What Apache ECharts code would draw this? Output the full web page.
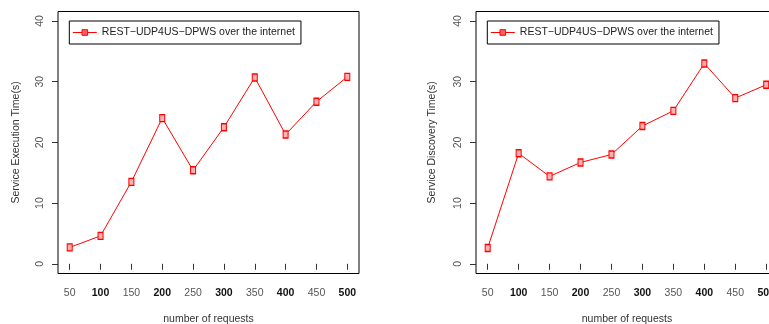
<!DOCTYPE html>
<html>
<head>
<meta charset="utf-8">
<script src="https://cdn.jsdelivr.net/npm/echarts@6/dist/echarts.min.js"></script>
<style>
html,body{margin:0;padding:0;background:#fff;}
#c{width:769px;height:324px;}
</style>
</head>
<body>
<div id="c"></div>
<script>
var requests = [50, 100, 150, 200, 250, 300, 350, 400, 450, 500];
var executionTime = [2.7, 4.6, 13.5, 24.0, 15.4, 22.5, 30.7, 21.3, 26.7, 30.8];
var discoveryTime = [2.6, 18.2, 14.4, 16.7, 18.0, 22.7, 25.2, 33.0, 27.3, 29.5];
var yTicks = [0, 10, 20, 30, 40];
var seriesName = 'REST\u2212UDP4US\u2212DPWS over the internet';
var xTitle = 'number of requests';
var yTitleLeft = 'Service Execution Time(s)';
var yTitleRight = 'Service Discovery Time(s)';

var FONT = 'Liberation Sans, Arial, Helvetica, sans-serif';
var FS = 10.5;
var chart = echarts.init(document.getElementById('c'), null, {renderer: 'canvas'});

function pairs(ys) { return requests.map(function (x, i) { return [x, ys[i]]; }); }

function xAxisFor(gi) {
  return {
    type: 'value', gridIndex: gi, min: requests[0], max: requests[requests.length - 1], interval: 50,
    offset: 9.7,
    axisLine: {show: false},
    axisTick: {show: true, length: 6, lineStyle: {color: '#333', width: 1}},
    splitLine: {show: false},
    axisLabel: {
      margin: 14, fontFamily: FONT, fontSize: FS, color: '#555',
      formatter: function (v) { return (v % 100 === 0 ? '{b|' : '{n|') + v + '}'; },
      rich: {
        b: {fontFamily: FONT, fontSize: FS, fontWeight: 'bold', color: '#111'},
        n: {fontFamily: FONT, fontSize: FS, color: '#555'}
      }
    },
    name: xTitle, nameLocation: 'middle', nameGap: 40,
    nameTextStyle: {fontFamily: FONT, fontSize: FS, color: '#333'}
  };
}
function yAxisFor(gi, title, gap) {
  return {
    type: 'value', gridIndex: gi, min: yTicks[0], max: yTicks[yTicks.length - 1], interval: 10,
    offset: 11.7,
    axisLine: {show: false},
    axisTick: {show: true, length: 6, lineStyle: {color: '#333', width: 1}},
    splitLine: {show: false},
    axisLabel: {margin: 12, rotate: 90, fontFamily: FONT, fontSize: FS, color: '#555'},
    name: title, nameLocation: 'middle', nameGap: gap,
    nameTextStyle: {fontFamily: FONT, fontSize: FS, color: '#333'}
  };
}
function hiddenAxis(gi) { return {type: 'value', gridIndex: gi, show: false}; }

function lineSeries(xi, ys) {
  return {
    name: seriesName, type: 'line', xAxisIndex: xi, yAxisIndex: xi, data: pairs(ys),
    symbol: 'rect', symbolSize: [5, 7], showSymbol: true,
    lineStyle: {color: '#ff0000', width: 1},
    itemStyle: {color: '#ffb0b0', borderColor: '#ff0000', borderWidth: 1.2},
    animation: false, silent: true
  };
}

function legendFor(left) {
  return {
    data: [seriesName], left: left, top: 21, orient: 'horizontal',
    borderColor: '#000', borderWidth: 1, padding: [6, 6, 6, 3],
    itemWidth: 24, itemHeight: 7, itemGap: 0,
    lineStyle: {width: 1, color: '#ff0000'},
    itemStyle: {color: '#ff6060', borderColor: '#ff0000', borderWidth: 1},
    textStyle: {fontFamily: FONT, fontSize: FS, color: '#222'},
    selectedMode: false
  };
}

var gridCommon = {containLabel: false, outerBoundsMode: 'none'};
function grid(o) { return Object.assign({}, gridCommon, o); }

chart.setOption({
  backgroundColor: '#fff',
  animation: false,
  grid: [
    grid({left: 69.7, top: 21, width: 277.6, height: 242.8}),
    grid({left: 487.7, top: 21, width: 278.5, height: 242.8}),
    grid({left: 58, top: 11.5, width: 301, height: 262, show: true, borderColor: '#000', borderWidth: 1, backgroundColor: 'transparent', z: 0}),
    grid({left: 476, top: 11.5, width: 301, height: 262, show: true, borderColor: '#000', borderWidth: 1, backgroundColor: 'transparent', z: 0})
  ],
  xAxis: [xAxisFor(0), xAxisFor(1), hiddenAxis(2), hiddenAxis(3)],
  yAxis: [yAxisFor(0, yTitleLeft, 36.5), yAxisFor(1, yTitleRight, 38.5), hiddenAxis(2), hiddenAxis(3)],
  legend: [legendFor(69.3), legendFor(487.3)],
  series: [lineSeries(0, executionTime), lineSeries(1, discoveryTime)]
});
</script>
</body>
</html>
